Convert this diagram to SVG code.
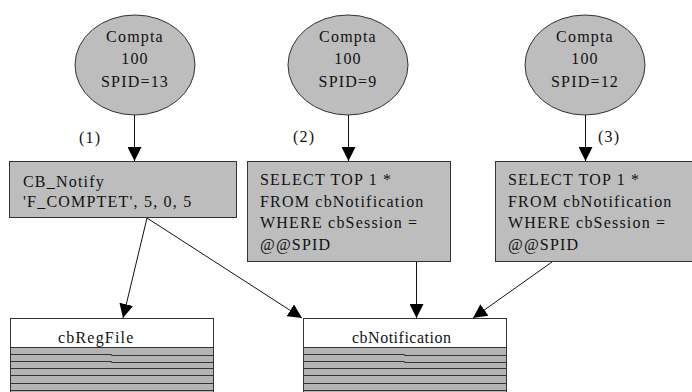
<svg xmlns="http://www.w3.org/2000/svg" width="692" height="392" viewBox="0 0 692 392">
<style>
  text { font-family: "Liberation Serif", "Times New Roman", serif; font-size: 16px; fill: #111; letter-spacing: 1.2px; }
  .c { text-anchor: middle; }
  .shape { fill: #bdbdbd; stroke: #333; stroke-width: 1; }
  .thead { fill: #ffffff; stroke: #333; stroke-width: 1; }
  .tbody { fill: #b4b4b4; stroke: #333; stroke-width: 1; }
  .row { stroke: #333; stroke-width: 1; fill: none; }
  .conn { stroke: #111; stroke-width: 1; fill: none; marker-end: url(#arr); }
</style>
<defs>
  <marker id="arr" viewBox="0 0 14 14" refX="14" refY="7" markerWidth="14" markerHeight="14" markerUnits="userSpaceOnUse" orient="auto">
    <path d="M0,0 L14,7 L0,14 z" fill="#000"/>
  </marker>
</defs>
<rect width="692" height="392" fill="#ffffff"/>

<g id="compta13">
  <ellipse class="shape" cx="135" cy="65" rx="60" ry="50"/>
  <text class="c" x="135" y="42">Compta</text>
  <text class="c" x="135" y="64">100</text>
  <text class="c" x="135" y="87">SPID=13</text>
</g>
<g id="compta9">
  <ellipse class="shape" cx="348" cy="65" rx="60" ry="50"/>
  <text class="c" x="348" y="42">Compta</text>
  <text class="c" x="348" y="64">100</text>
  <text class="c" x="348" y="87">SPID=9</text>
</g>
<g id="compta12">
  <ellipse class="shape" cx="585" cy="65" rx="60" ry="50"/>
  <text class="c" x="585" y="42">Compta</text>
  <text class="c" x="585" y="64">100</text>
  <text class="c" x="585" y="87">SPID=12</text>
</g>

<g id="notify">
  <rect class="shape" x="9.5" y="161.5" width="227" height="56"/>
  <text x="23" y="187">CB_Notify</text>
  <text x="23" y="207">'F_COMPTET', 5, 0, 5</text>
</g>
<g id="select9">
  <rect class="shape" x="247.5" y="161.5" width="203" height="100"/>
  <text x="260" y="185">SELECT TOP 1 *</text>
  <text x="260" y="207">FROM cbNotification</text>
  <text x="260" y="228">WHERE cbSession =</text>
  <text x="260" y="250">@@SPID</text>
</g>
<g id="select12">
  <rect class="shape" x="495.5" y="161.5" width="203" height="100"/>
  <text x="508" y="185">SELECT TOP 1 *</text>
  <text x="508" y="207">FROM cbNotification</text>
  <text x="508" y="228">WHERE cbSession =</text>
  <text x="508" y="250">@@SPID</text>
</g>

<g id="cbRegFile">
  <rect class="tbody" x="10.5" y="318.5" width="203" height="90"/>
  <rect class="thead" x="10.5" y="318.5" width="203" height="29"/>
  <path class="row" d="M10.5,354.5 H111.5 V355.5 H213.5 M10.5,361.5 H111.5 V362.5 H213.5 M10.5,368.5 H213.5 M10.5,375.5 H213.5 M10.5,383.5 H213.5 M10.5,390.5 H213.5"/>
  <text x="58" y="343">cbRegFile</text>
</g>
<g id="cbNotification">
  <rect class="tbody" x="303.5" y="318.5" width="203" height="90"/>
  <rect class="thead" x="303.5" y="318.5" width="203" height="29"/>
  <path class="row" d="M303.5,354.5 H404.5 V355.5 H506.5 M303.5,361.5 H404.5 V362.5 H506.5 M303.5,368.5 H506.5 M303.5,375.5 H506.5 M303.5,383.5 H506.5 M303.5,390.5 H506.5"/>
  <text x="352" y="343" style="letter-spacing:0.5px">cbNotification</text>
</g>

<g id="connectors">
  <line class="conn" x1="134.5" y1="115" x2="134.5" y2="161"/>
  <line class="conn" x1="348.5" y1="115" x2="348.5" y2="161"/>
  <line class="conn" x1="585.5" y1="115" x2="585.5" y2="161"/>
  <line class="conn" x1="147" y1="218" x2="123" y2="318"/>
  <line class="conn" x1="147" y1="218" x2="302" y2="318"/>
  <line class="conn" x1="416.5" y1="262" x2="416.5" y2="318"/>
  <line class="conn" x1="552" y1="262" x2="473" y2="318"/>
  <text x="79" y="143">(1)</text>
  <text x="293" y="142">(2)</text>
  <text x="598" y="142">(3)</text>
</g>
</svg>
